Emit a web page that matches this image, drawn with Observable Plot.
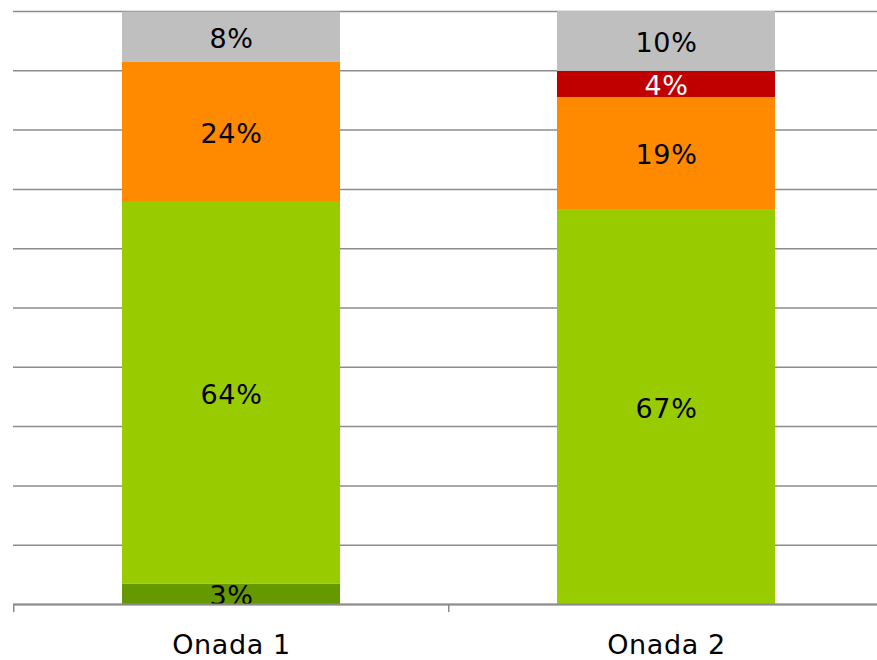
<!DOCTYPE html>
<html><head><meta charset="utf-8">
<script src="https://cdn.jsdelivr.net/npm/d3@7"></script>
<script src="https://cdn.jsdelivr.net/npm/@observablehq/plot@0.6"></script>
<style>body{margin:0;background:#fff} svg{display:block} svg text{letter-spacing:0.6px}</style>
</head><body><div id="chart"></div>
<script>
const waves = ["Onada 1", "Onada 2"];
const segments = ["s1", "s2", "s3", "s4", "s5"];
const segmentColors = ["#669900", "#99CC00", "#FF8A00", "#C00000", "#BFBFBF"];
const labelColors = ["#000000", "#000000", "#000000", "#FFFFFF", "#000000"];
const onada1 = [3.4, 64.4, 23.7, 0, 8.4];
const onada2 = [0, 66.6, 18.9, 4.4, 10.1];
const yTicks = [0, 10, 20, 30, 40, 50, 60, 70, 80, 90, 100];

const seriesByWave = [onada1, onada2];
const data = [];
waves.forEach((w, wi) => {
  seriesByWave[wi].forEach((v, si) => {
    if (v > 0) data.push({wave: w, segment: segments[si], value: v,
      color: segmentColors[si], labelColor: labelColors[si], label: Math.round(v) + "%"});
  });
});

const chart = Plot.plot({
  width: 877,
  height: 660,
  marginTop: 11,
  marginBottom: 56,
  marginLeft: 13,
  marginRight: 0,
  style: {fontFamily: "DejaVu Sans", background: "#fff"},
  x: {domain: waves, range: [13, 884], paddingInner: 0.5, paddingOuter: 0.25, axis: null, label: null},
  y: {domain: [0, 100], axis: null},
  color: {type: "identity"},
  marks: [
    Plot.ruleY(yTicks, {stroke: "#8c8c8c", strokeWidth: 1.5}),
    Plot.barY(data, Plot.stackY({x: "wave", y: "value", fill: "color", order: null})),
    Plot.text(data, Plot.stackY({x: "wave", y: "value", text: "label", fill: "labelColor",
      fontSize: 27, dy: 2, order: null})),
    Plot.ruleY([0], {stroke: "#8c8c8c", strokeWidth: 2}),
    Plot.ruleX(waves, {x: d => d, dx: -217.75, stroke: "#8c8c8c", strokeWidth: 1.5,
      insetTop: 593, insetBottom: -8}),
    Plot.axisX({tickSize: 0, tickPadding: 30, fontSize: 27, fill: "#000", label: null})
  ]
});
document.getElementById("chart").append(chart);
</script>
</body></html>
